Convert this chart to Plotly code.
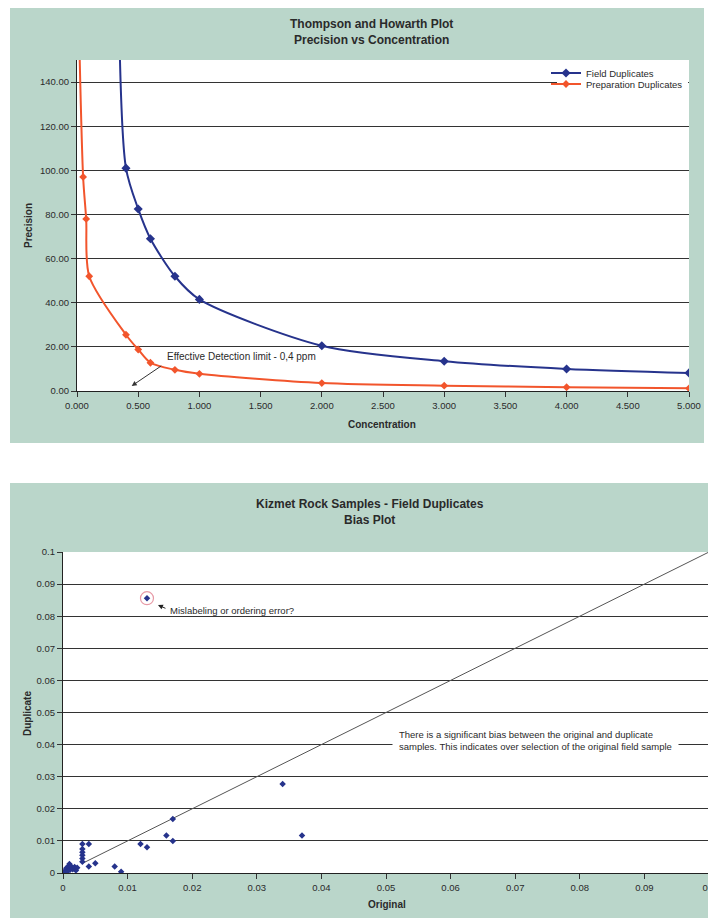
import plotly.graph_objects as go

# The page adds an 8px body margin, so the figure is drawn 8px smaller and
# reference pixel positions are shifted by that offset.
W, H = 716, 918
OFF = 8
FW, FH = W - OFF, H - OFF

# ---------------- Top chart data (Thompson and Howarth) ----------------
field_conc = [0.34, 0.4, 0.5, 0.6, 0.8, 1.0, 2.0, 3.0, 4.0, 5.0]
field_prec = [180, 101, 82.5, 69, 52, 41.5, 20.5, 13.5, 10.0, 8.2]
prep_conc = [0.01, 0.05, 0.075, 0.1, 0.4, 0.5, 0.6, 0.8, 1.0, 2.0, 3.0, 4.0, 5.0]
prep_prec = [180, 97, 78, 52, 25.5, 18.8, 12.8, 9.6, 7.8, 3.6, 2.4, 1.7, 1.2]
top_xticks = [0, 0.5, 1.0, 1.5, 2.0, 2.5, 3.0, 3.5, 4.0, 4.5, 5.0]
top_yticks = [0, 20, 40, 60, 80, 100, 120, 140]

# ---------------- Bottom chart data (Bias plot) ----------------
original = [0.0002, 0.0004, 0.0005, 0.0007, 0.0008, 0.001, 0.0011, 0.0012, 0.0015,
            0.0018, 0.002, 0.0022, 0.003, 0.003, 0.003, 0.003, 0.003, 0.003,
            0.004, 0.004, 0.005, 0.008, 0.009, 0.012, 0.013, 0.016, 0.017, 0.017,
            0.034, 0.037, 0.013]
duplicate = [0.0003, 0.0008, 0.0015, 0.0005, 0.002, 0.0028, 0.001, 0.0022, 0.0012,
             0.0019, 0.0008, 0.0016, 0.009, 0.0075, 0.0065, 0.0055, 0.0045, 0.0035,
             0.009, 0.002, 0.003, 0.002, 0.0004, 0.009, 0.008, 0.0117, 0.0168, 0.010,
             0.0277, 0.0117, 0.0856]
outlier_x = [0.013]
outlier_y = [0.0856]
one_to_one_x = [0.003, 0.1]
one_to_one_y = [0.003, 0.1]
bias_ticks = [0, 0.01, 0.02, 0.03, 0.04, 0.05, 0.06, 0.07, 0.08, 0.09, 0.1]

GREEN = "#bad6ca"
BLUE = "#26338c"
RED = "#f2552c"
GRID = "#333333"
TXT = "#2a2a2a"
FONT = "Liberation Sans, Arial, sans-serif"


def px(x):
    return max(0.0, min(1.0, (x - OFF) / FW))


def py(y):
    return max(0.0, min(1.0, 1 - (y - OFF) / FH))


fig = go.Figure()

# top traces
fig.add_trace(go.Scatter(
    x=field_conc, y=field_prec, mode="lines+markers", name="Field Duplicates",
    line=dict(color=BLUE, width=2, shape="spline", smoothing=0.8),
    marker=dict(symbol="diamond", size=7, color=BLUE),
    xaxis="x", yaxis="y", legend="legend", cliponaxis=True))
fig.add_trace(go.Scatter(
    x=prep_conc, y=prep_prec, mode="lines+markers", name="Preparation Duplicates",
    line=dict(color=RED, width=2, shape="spline", smoothing=0.8),
    marker=dict(symbol="diamond", size=6, color=RED),
    xaxis="x", yaxis="y", legend="legend2", cliponaxis=True))

# bottom traces
fig.add_trace(go.Scatter(
    x=one_to_one_x, y=one_to_one_y, mode="lines", showlegend=False,
    line=dict(color="#555555", width=1), xaxis="x2", yaxis="y2"))
fig.add_trace(go.Scatter(
    x=original, y=duplicate, mode="markers", showlegend=False,
    marker=dict(symbol="diamond", size=5, color=BLUE), xaxis="x2", yaxis="y2"))
fig.add_trace(go.Scatter(
    x=outlier_x, y=outlier_y, mode="markers", showlegend=False,
    marker=dict(symbol="circle-open", size=13, color="#e79aa6", line=dict(width=1.2)),
    xaxis="x2", yaxis="y2"))

# domains (reference pixel positions)
top_x = [px(77), px(689)]
top_y = [py(391), py(60)]
bot_x = [px(63), px(709)]
bot_y = [py(873), py(552)]

axis_common = dict(
    ticks="outside", ticklen=5, tickcolor="#333", tickwidth=1,
    showline=True, linecolor="#222", linewidth=1.2,
    tickfont=dict(family=FONT, size=9.5, color=TXT),
    zeroline=False, fixedrange=True, automargin=False,
)

shapes = [
    dict(type="rect", xref="paper", yref="paper", x0=px(10), x1=px(704), y0=py(443), y1=py(5),
         fillcolor=GREEN, line=dict(width=0), layer="below"),
    dict(type="rect", xref="paper", yref="paper", x0=px(10), x1=px(716), y0=py(918), y1=py(483),
         fillcolor=GREEN, line=dict(width=0), layer="below"),
    dict(type="rect", xref="x domain", yref="y domain", x0=0, x1=1, y0=0, y1=1,
         fillcolor="white", line=dict(width=0), layer="below"),
    dict(type="rect", xref="x2 domain", yref="y2 domain", x0=0, x1=1, y0=0, y1=1,
         fillcolor="white", line=dict(width=0), layer="below"),
    # white box behind legend entries
    dict(type="rect", xref="paper", yref="paper", x0=px(557), x1=px(688), y0=py(91), y1=py(66),
         fillcolor="white", line=dict(width=0), layer="above"),
]


def label(text, x, y, size=10, angle=0):
    return dict(text=text, xref="paper", yref="paper", x=px(x), y=py(y),
                xanchor="center", yanchor="middle", showarrow=False, textangle=angle,
                align="center", font=dict(family=FONT, size=size, color=TXT))


annotations = [
    label("<b>Thompson and Howarth Plot</b><br><b>Precision vs Concentration</b>", 371, 32, 12),
    label("<b>Concentration</b>", 382, 425),
    label("<b>Precision</b>", 28, 226, angle=-90),
    dict(text="Effective Detection limit - 0,4 ppm", xref="x", yref="y", x=0.72, y=15.8,
         xanchor="left", yanchor="middle", showarrow=False,
         font=dict(family=FONT, size=10, color=TXT)),
    dict(text="", xref="x", yref="y", x=0.447, y=2.3, ax=31, ay=-21, showarrow=True,
         arrowhead=2, arrowsize=1, arrowwidth=1, arrowcolor="#333"),
    label("<b>Kizmet Rock Samples - Field Duplicates</b><br><b>Bias Plot</b>", 370, 512, 12),
    label("<b>Original</b>", 387, 904),
    label("<b>Duplicate</b>", 27, 714, angle=-90),
    dict(text="Mislabeling or ordering error?", xref="x2", yref="y2", x=0.0162, y=0.0818,
         xanchor="left", yanchor="middle", showarrow=False,
         font=dict(family=FONT, size=9.5, color=TXT)),
    dict(text="", xref="x2", yref="y2", x=0.0147, y=0.0835, ax=9, ay=4, showarrow=True,
         arrowhead=2, arrowsize=1, arrowwidth=1, arrowcolor="#222"),
    dict(text="There is a significant bias between the original and duplicate<br>"
              "samples. This indicates over selection of the original field sample",
         xref="x2", yref="y2", x=0.0509, y=0.0412, xanchor="left", yanchor="middle",
         align="left", showarrow=False, bgcolor="white", borderpad=6,
         font=dict(family=FONT, size=9.5, color=TXT)),
]

fig.update_layout(
    width=FW, height=FH, margin=dict(l=0, r=0, t=0, b=0, pad=0, autoexpand=False),
    paper_bgcolor="white", plot_bgcolor="white",
    font=dict(family=FONT, color=TXT),
    xaxis=dict(domain=top_x, anchor="y", range=[0, 5], tickvals=top_xticks,
               tickformat=".3f", showgrid=False, **axis_common),
    yaxis=dict(domain=top_y, anchor="x", range=[0, 150], tickvals=top_yticks,
               tickformat=".2f", showgrid=True, gridcolor=GRID, gridwidth=1.4,
               **axis_common),
    xaxis2=dict(domain=bot_x, anchor="y2", range=[0, 0.1], tickvals=bias_ticks,
                showgrid=False, **axis_common),
    yaxis2=dict(domain=bot_y, anchor="x2", range=[0, 0.1], tickvals=bias_ticks,
                showgrid=True, gridcolor=GRID, gridwidth=1.4, **axis_common),
    legend=dict(x=px(546), y=py(73), xanchor="left", yanchor="middle",
                bgcolor="rgba(0,0,0,0)", borderwidth=0, itemwidth=30,
                font=dict(family=FONT, size=9.5, color=TXT)),
    legend2=dict(x=px(546), y=py(84), xanchor="left", yanchor="middle",
                 bgcolor="rgba(0,0,0,0)", borderwidth=0, itemwidth=30,
                 font=dict(family=FONT, size=9.5, color=TXT)),
    shapes=shapes,
    annotations=annotations,
)

fig.write_html("out.html")
